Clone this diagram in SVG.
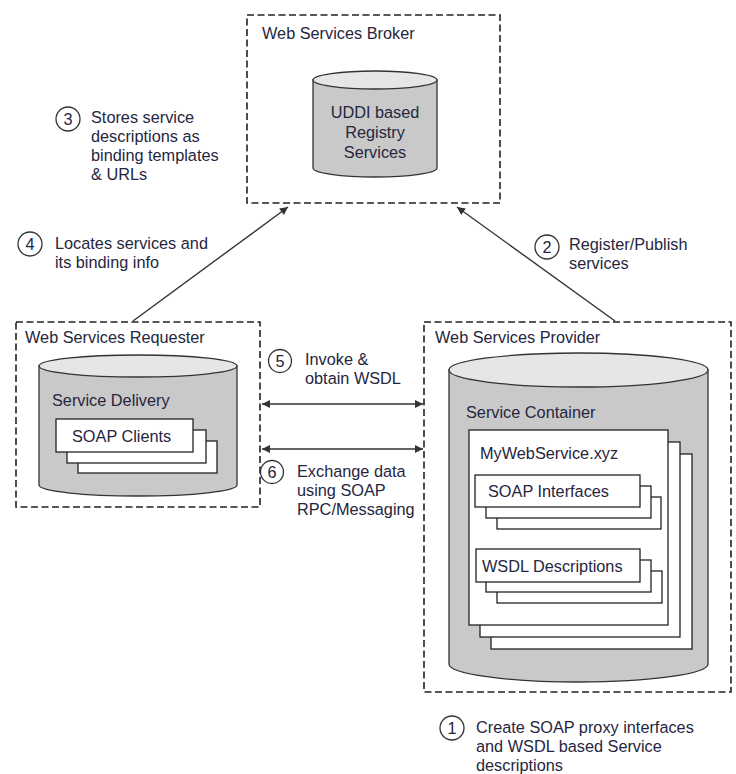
<svg xmlns="http://www.w3.org/2000/svg" width="736" height="774" viewBox="0 0 736 774">
<defs>
<style>
text{font-family:"Liberation Sans",Arial,sans-serif;font-size:16.3px;fill:#26263e}
.box{fill:none;stroke:#222;stroke-width:1.6;stroke-dasharray:7,3.5}
.cyl{fill:#c9c9c9;stroke:#333;stroke-width:1.3}
.top{fill:#e6e6e6;stroke:#333;stroke-width:1.3}
.pg{fill:#fff;stroke:#222;stroke-width:1.3}
.ln{fill:none;stroke:#333;stroke-width:1.4}
.cir{fill:#fff;stroke:#333;stroke-width:1.3}
.num{text-anchor:middle}
.ctr{text-anchor:middle}
</style>
<marker id="ah" viewBox="0 0 10 10" refX="10" refY="5" markerWidth="9" markerHeight="8" markerUnits="userSpaceOnUse" orient="auto-start-reverse">
<path d="M0,0 L10,5 L0,10 Z" fill="#333"/>
</marker>
</defs>
<rect width="736" height="774" fill="#fff"/>

<g id="broker">
<rect class="box" x="247" y="15" width="253" height="188"/>
<text x="262" y="39">Web Services Broker</text>
<path class="cyl" d="M313,80 L313,168 A62,9 0 0 0 437,168 L437,80 Z"/>
<ellipse class="top" cx="375" cy="80" rx="62" ry="9"/>
<text class="ctr" x="375" y="118">UDDI based</text>
<text class="ctr" x="375" y="138">Registry</text>
<text class="ctr" x="375" y="158">Services</text>
</g>

<g id="requester">
<rect class="box" x="16" y="322" width="244" height="185"/>
<text x="25" y="343">Web Services Requester</text>
<path class="cyl" d="M39,366 L39,485 A99,11 0 0 0 237,485 L237,366 Z"/>
<ellipse class="top" cx="138" cy="366" rx="99" ry="11"/>
<text x="52" y="406">Service Delivery</text>
<rect class="pg" x="78" y="441" width="139" height="32"/>
<rect class="pg" x="67" y="430" width="139" height="33"/>
<rect class="pg" x="56" y="419" width="137" height="33"/>
<text x="72" y="442">SOAP Clients</text>
</g>

<g id="provider">
<rect class="box" x="424" y="322" width="307" height="370"/>
<text x="435" y="343">Web Services Provider</text>
<path class="cyl" d="M449,370 L449,664 A129.5,18 0 0 0 708,664 L708,370 Z"/>
<ellipse class="top" cx="578.5" cy="370" rx="129.5" ry="17"/>
<text x="466" y="418">Service Container</text>
<rect class="pg" x="491" y="454" width="201" height="195"/>
<rect class="pg" x="480" y="442" width="200" height="195"/>
<rect class="pg" x="469" y="430" width="199" height="195"/>
<text x="480" y="459">MyWebService.xyz</text>
<rect class="pg" x="497" y="497" width="164" height="32"/>
<rect class="pg" x="486" y="486" width="165" height="32"/>
<rect class="pg" x="475" y="475" width="165" height="32"/>
<text x="488" y="497">SOAP Interfaces</text>
<rect class="pg" x="497" y="571" width="165" height="32"/>
<rect class="pg" x="486" y="560" width="165" height="32"/>
<rect class="pg" x="476" y="549" width="164" height="33"/>
<text x="482" y="572">WSDL Descriptions</text>
</g>

<g id="connectors">
<line class="ln" x1="133" y1="321" x2="288" y2="207" marker-end="url(#ah)"/>
<line class="ln" x1="615" y1="321" x2="457" y2="207" marker-end="url(#ah)"/>
<line class="ln" x1="262" y1="404" x2="423" y2="404" marker-start="url(#ah)" marker-end="url(#ah)"/>
<line class="ln" x1="262" y1="449" x2="423" y2="449" marker-start="url(#ah)" marker-end="url(#ah)"/>
</g>

<g id="label1">
<circle class="cir" cx="452" cy="728" r="12"/>
<text class="num" x="452" y="734">1</text>
<text x="476" y="733">Create SOAP proxy interfaces</text>
<text x="476" y="752">and WSDL based Service</text>
<text x="476" y="771">descriptions</text>
</g>
<g id="label2">
<circle class="cir" cx="547" cy="247" r="12"/>
<text class="num" x="547" y="253">2</text>
<text x="569" y="250">Register/Publish</text>
<text x="569" y="269">services</text>
</g>
<g id="label3">
<circle class="cir" cx="68" cy="119" r="12"/>
<text class="num" x="68" y="125">3</text>
<text x="91" y="123">Stores service</text>
<text x="91" y="142">descriptions as</text>
<text x="91" y="161">binding templates</text>
<text x="91" y="180">&amp; URLs</text>
</g>
<g id="label4">
<circle class="cir" cx="30" cy="244" r="12"/>
<text class="num" x="30" y="250">4</text>
<text x="55" y="249">Locates services and</text>
<text x="55" y="268">its binding info</text>
</g>
<g id="label5">
<circle class="cir" cx="280" cy="361" r="11.5"/>
<text class="num" x="280" y="367">5</text>
<text x="305" y="365">Invoke &amp;</text>
<text x="305" y="384">obtain WSDL</text>
</g>
<g id="label6">
<circle class="cir" cx="272" cy="472" r="11.5"/>
<text class="num" x="272" y="478">6</text>
<text x="297" y="477">Exchange data</text>
<text x="297" y="496">using SOAP</text>
<text x="297" y="515">RPC/Messaging</text>
</g>
</svg>
